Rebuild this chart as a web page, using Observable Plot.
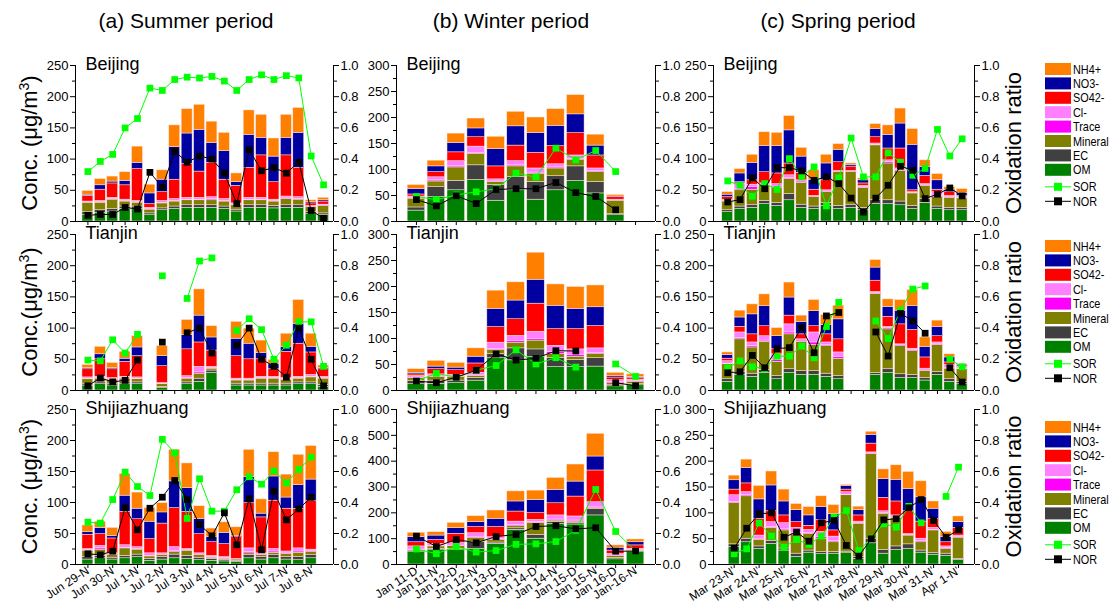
<!DOCTYPE html>
<html><head><meta charset="utf-8">
<script src="https://cdn.jsdelivr.net/npm/d3@7"></script>
<script src="https://cdn.jsdelivr.net/npm/@observablehq/plot@0.6"></script>
<style>
body{margin:0;background:#fff;}
#root{position:relative;width:1110px;height:603px;overflow:hidden;font-family:"Liberation Sans",Arial,sans-serif;background:#fff;}
#root svg{position:absolute;overflow:visible;}
</style></head><body><div id="root"></div>
<script>
// ---------- categories ----------
const components = ["OM","EC","Mineral","Trace","Cl-","SO42-","NO3-","NH4+"];
const compColors = ["#008000","#404040","#808000","#ff00ff","#ff80ff","#ff0000","#0000a0","#ff8000"];
const legendOrder = ["NH4+","NO3-","SO42-","Cl-","Trace","Mineral","EC","OM"];
const periodTitles = ["(a) Summer period","(b) Winter period","(c) Spring period"];
const cities = ["Beijing","Tianjin","Shijiazhuang"];
const summerLabels = ["Jun 29-N","Jun 30-N","Jul 1-N","Jul 2-N","Jul 3-N","Jul 4-N","Jul 5-N","Jul 6-N","Jul 7-N","Jul 8-N"];
const winterLabels = ["Jan 11-D","Jan 11-N","Jan 12-D","Jan 12-N","Jan 13-D","Jan 13-N","Jan 14-D","Jan 14-N","Jan 15-D","Jan 15-N","Jan 16-D","Jan-16-N"];
const springLabels = ["Mar 23-N'","Mar 24-N'","Mar 25-N'","Mar 26-N'","Mar 27-N'","Mar 28-N'","Mar 29-N'","Mar 30-N'","Mar 31-N'","Apr 1-N'"];
const ratioTicks = [0,0.2,0.4,0.6,0.8,1.0];
const ratioMinor = [0.1,0.3,0.5,0.7,0.9];

// ---------- data: each bar = [OM, EC, Mineral, Trace, Cl-, SO42-, NO3-, NH4+] (µg/m3) ----------
const summerBeijing = [[10,5,15,1,1,9,2,6],[14,4,12,1,2,18,7,10],[16,4,15,1,2,23,3,8],[20,4,8,1,2,23,7,14],[20,4,6,1,2,51,10,26],[10,3,6,1,2,6,17,14],[18,3,8,1,3,14,20,15],[20,4,8,1,3,31,52,35],[22,4,8,1,3,54,49,39],[22,4,8,1,3,42,67,40],[22,4,8,2,3,55,32,34],[20,4,8,1,3,31,46,29],[16,3,7,1,2,28,6,14],[22,4,8,1,3,48,53,39],[22,4,8,1,3,68,28,37],[21,4,7,1,2,28,41,29],[22,4,10,1,3,66,28,37],[22,4,9,1,3,47,56,40],[12,3,8,1,1,4,2,3],[10,3,12,1,1,5,2,4]];
const summerBeijingSOR = [0.32,0.385,0.43,0.60,0.66,0.855,0.84,0.91,0.925,0.92,0.93,0.90,0.84,0.91,0.94,0.91,0.935,0.92,0.42,0.235];
const summerBeijingNOR = [0.04,0.045,0.045,0.09,0.08,0.315,0.22,0.45,0.38,0.42,0.40,0.31,0.115,0.46,0.325,0.345,0.31,0.38,0.07,0.02];

const summerTianjin = [[8,3,7,1,2,13,2,5],[10,3,6,1,2,28,8,12],[8,3,6,1,2,14,2,8],[10,3,6,1,2,24,5,11],[10,3,5,1,2,34,14,18],null,[4,2,4,1,1,27,16,16],null,[10,3,6,1,3,43,23,24],[14,5,8,2,9,39,43,42],[28,4,3,1,2,26,21,18],null,[8,3,5,1,2,36,28,27],[8,3,5,1,2,31,25,24],[8,3,8,1,2,28,10,20],[8,3,8,1,2,12,8,7],[8,3,6,1,2,42,8,21],[10,3,6,1,2,53,32,38],[10,3,8,1,3,36,9,21],[6,3,10,1,2,12,2,4]];
const summerTianjinSOR = [0.195,0.19,0.325,0.24,0.36,null,0.735,null,0.59,0.83,0.85,null,0.385,0.46,0.39,0.20,0.29,0.44,0.44,0.155];
const summerTianjinNOR = [0.03,0.08,0.055,0.065,0.195,null,0.31,null,0.37,0.40,0.24,null,0.29,0.40,0.20,0.155,0.085,0.40,0.20,0.03];

const summerShijiazhuang = [[8,4,10,1,2,23,4,11],[10,4,10,2,4,19,10,10],[8,3,4,1,2,24,4,13],[10,4,12,1,4,54,26,35],[12,4,8,1,3,45,17,26],[6,3,4,1,4,23,28,22],[8,4,3,1,2,48,18,15],[10,6,4,2,6,63,43,51],[9,5,8,1,2,60,38,40],[7,4,4,1,2,31,24,21],[6,3,2,1,2,22,8,14],[5,2,2,1,2,21,18,17],[4,2,2,1,0,35,2,14],[10,5,3,2,6,73,42,44],[8,4,3,1,2,58,6,23],[10,5,4,2,4,78,39,39],[8,4,5,1,3,69,18,37],[7,5,7,2,5,64,38,49],[10,5,5,2,2,78,35,54],null];
const summerShijiazhuangSOR = [0.273,0.267,0.419,0.596,0.503,0.445,0.807,0.72,0.297,0.553,0.344,0.344,0.482,0.566,0.518,0.604,0.527,0.613,0.692,null];
const summerShijiazhuangNOR = [0.069,0.062,0.086,0.366,0.224,0.363,0.434,0.542,0.419,0.258,0.185,0.333,0.127,0.424,0.095,0.473,0.288,0.359,0.434,null];

const winterBeijing = [[21,6,17,1,3,4,10,8],[47,19,11,2,6,10,11,11],[60,18,26,2,10,17,18,18],[80,28,22,2,12,18,17,19],[40,30,6,1,4,25,33,24],[60,26,20,2,8,30,37,28],[42,34,16,2,8,30,38,30],[60,27,15,2,6,35,39,32],[78,28,13,1,7,43,36,37],[54,22,19,2,5,25,19,21],[12,2,26,1,1,5,1,3],null];
const winterBeijingSOR = [0.16,0.14,0.17,0.19,0.21,0.31,0.285,0.47,0.395,0.455,0.32,null];
const winterBeijingNOR = [0.14,0.10,0.165,0.115,0.205,0.21,0.21,0.25,0.185,0.16,0.075,null];

const winterTianjin = [[12,6,6,1,3,3,3,7],[13,6,7,1,4,10,5,11],[14,5,7,1,3,9,5,9],[19,5,4,1,5,18,13,16],[62,8,8,2,12,30,35,35],[58,23,11,3,10,32,36,35],[64,15,17,3,14,54,46,52],[45,18,7,4,12,32,45,41],[45,14,6,3,11,39,39,42],[46,16,8,2,9,43,36,42],[8,2,4,2,4,5,3,6],[10,3,4,1,3,3,2,5]];
const winterTianjinSOR = [0.06,0.11,0.085,0.13,0.16,0.26,0.17,0.21,0.15,null,0.17,0.09];
const winterTianjinNOR = [0.06,0.05,0.085,0.13,0.234,0.195,0.206,0.255,0.253,null,0.05,0.03];

const winterShijiazhuang = [[50,4,3,1,12,16,20,17],[55,6,9,2,8,15,17,13],[58,3,10,2,10,36,22,20],[60,27,15,3,16,24,19,23],[80,5,10,3,8,39,32,32],[134,6,8,4,14,39,39,39],[100,15,46,3,9,26,51,36],[158,6,6,4,16,47,52,46],[155,5,6,4,16,77,58,66],[190,25,3,3,20,123,54,88],[20,5,8,2,6,13,11,9],[50,2,2,2,5,13,12,11]];
const winterShijiazhuangSOR = [0.10,0.07,0.116,0.08,0.09,0.13,0.133,0.148,0.22,0.484,0.213,0.086];
const winterShijiazhuangNOR = [0.183,0.116,0.161,0.14,0.18,0.194,0.245,0.25,0.23,0.237,0.086,0.086];

const springBeijing = [[15,3,14,1,2,4,4,4],[20,4,26,2,9,2,14,7],[22,4,25,4,4,7,28,13],[28,5,25,1,2,18,42,22],[25,5,24,2,4,17,44,21],[34,10,24,2,4,19,53,23],[22,5,35,2,2,12,26,14],[20,4,15,1,1,10,16,15],[25,5,17,1,2,16,27,14],[20,5,54,1,1,14,20,9],[22,5,52,1,1,6,3,3],[18,4,32,1,2,4,5,3],[28,6,88,1,2,10,13,8],[28,6,59,2,3,19,22,15],[26,6,49,2,2,32,40,24],[20,5,20,1,1,3,73,25],[30,6,21,1,2,13,14,11],[20,4,15,2,6,4,15,10],[18,4,16,1,2,6,4,4],[18,4,15,1,2,1,5,6]];
const springBeijingSOR = [0.26,0.232,0.162,0.243,0.205,0.403,0.286,0.35,0.10,0.28,0.535,0.286,0.286,0.44,0.38,0.296,0.34,0.59,0.42,0.53];
const springBeijingNOR = [0.125,0.14,0.28,0.21,0.345,0.345,0.324,0.264,0.286,0.243,0.15,0.06,0.15,0.232,0.354,0.328,0.147,0.175,0.215,0.164];

const springTianjin = [[14,4,24,1,4,4,6,4],[25,5,52,2,9,9,15,11],[22,5,42,2,6,13,32,16],[28,5,45,2,7,16,32,19],[18,5,23,3,9,8,21,13],[28,6,56,3,13,14,29,24],[25,6,47,2,2,8,20,10],[25,6,42,4,16,10,24,18],[22,5,44,2,4,13,15,16],[18,5,28,3,7,21,32,22],null,null,[25,3,127,1,2,18,21,12],[28,6,64,2,2,16,16,12],[20,6,45,2,1,32,22,17],[20,5,38,2,2,30,38,26],[16,4,11,1,3,18,17,15],[25,5,43,1,3,10,15,10],[14,4,17,1,5,4,8,5],[10,4,20,1,2,1,2,2]];
const springTianjinSOR = [0.145,0.19,0.152,0.14,0.22,0.22,0.285,0.21,0.41,0.565,null,null,0.446,0.333,0.515,0.65,0.67,null,0.2,0.152];
const springTianjinNOR = [0.114,0.12,0.225,0.146,0.268,0.275,0.403,0.242,0.478,0.5,null,null,0.375,0.221,0.494,0.446,0.367,null,0.146,0.054];

const springShijiazhuang = [[34,5,80,2,13,11,18,9],[43,7,82,2,6,17,30,16],[30,5,13,2,6,32,38,26],[40,6,25,2,9,21,50,27],[27,4,35,2,12,15,27,23],[15,6,37,3,10,11,23,12],[23,4,32,2,6,8,20,16],[20,4,26,3,10,23,25,21],[21,3,19,2,9,12,32,17],[23,2,109,1,5,5,7,2],[11,4,64,1,3,12,10,7],[41,9,164,1,2,17,17,6],[21,7,70,2,3,26,36,19],[28,7,55,1,4,27,42,28],[30,9,17,1,2,44,43,33],[23,4,16,2,5,33,47,31],[19,3,44,1,4,17,20,14],[17,4,9,2,3,8,10,10],[9,2,41,1,3,15,11,11]];
const springShijiazhuangSOR = [0.069,0.101,0.267,0.183,0.112,0.161,0.129,0.183,0.305,0.348,0.09,0.17,0.262,0.241,0.375,0.269,null,0.439,0.628];
const springShijiazhuangNOR = [0.105,0.234,0.327,0.333,0.176,0.209,0.15,0.269,0.284,0.123,0.054,0.166,0.288,0.295,0.366,0.419,0.284,0.176,0.224];

// ---------- layout ----------
const colX = [[75,333],[396,655],[713,974]];
const rowY = [[65,221],[234,390],[409,564]];
const odd = [1,3,5,7,9,11,13,15,17,19];
const allIdx = n => d3.range(1, n + 1);

const panels = [
  {col:0,row:0,bars:summerBeijing,sor:summerBeijingSOR,nor:summerBeijingNOR,ymax:250,ystep:50,xdom:[0,20.8]},
  {col:0,row:1,bars:summerTianjin,sor:summerTianjinSOR,nor:summerTianjinNOR,ymax:250,ystep:50,xdom:[0,20.8]},
  {col:0,row:2,bars:summerShijiazhuang,sor:summerShijiazhuangSOR,nor:summerShijiazhuangNOR,ymax:250,ystep:50,xdom:[0,20.8],labels:summerLabels,labelAt:odd},
  {col:1,row:0,bars:winterBeijing,sor:winterBeijingSOR,nor:winterBeijingNOR,ymax:300,ystep:50,xdom:[0,13]},
  {col:1,row:1,bars:winterTianjin,sor:winterTianjinSOR,nor:winterTianjinNOR,ymax:300,ystep:50,xdom:[0,13]},
  {col:1,row:2,bars:winterShijiazhuang,sor:winterShijiazhuangSOR,nor:winterShijiazhuangNOR,ymax:600,ystep:100,xdom:[0,13],labels:winterLabels,labelAt:allIdx(12)},
  {col:2,row:0,bars:springBeijing,sor:springBeijingSOR,nor:springBeijingNOR,ymax:250,ystep:50,xdom:[-0.15,21]},
  {col:2,row:1,bars:springTianjin,sor:springTianjinSOR,nor:springTianjinNOR,ymax:250,ystep:50,xdom:[-0.15,21]},
  {col:2,row:2,bars:springShijiazhuang,sor:springShijiazhuangSOR,nor:springShijiazhuangNOR,ymax:300,ystep:50,xdom:[-0.66,20.28],labels:springLabels,labelAt:odd}
];

const root = document.getElementById("root");
const FONT = "'Liberation Sans', Arial, sans-serif";

function makePanel(p) {
  const [L, R] = colX[p.col], [T, B] = rowY[p.row];
  const mL = 48, mR = 42, mT = 12, mB = p.row === 2 ? 60 : 10;
  const width = R - L + mL + mR, height = B - T + mT + mB;
  const rows = [];
  p.bars.forEach((b, k) => {
    if (!b) return;
    b.forEach((v, j) => rows.push({i: k + 1, x1: k + 1 - 0.44, x2: k + 1 + 0.44, comp: components[j], v}));
  });
  const idx = allIdx(p.bars.length);
  const sorRows = p.sor.map((r, k) => ({i: k + 1, r}));
  const norRows = p.nor.map((r, k) => ({i: k + 1, r}));
  const yr = d => d.r == null ? NaN : d.r * p.ymax;
  const xAxis = p.row === 2
    ? Plot.axisX(p.labelAt, {anchor: "bottom", tickSize: 4, tickPadding: 1, tickRotate: -33, fontSize: 12,
        tickFormat: i => p.labels[p.labelAt.indexOf(i)], label: null})
    : Plot.axisX(idx, {anchor: "bottom", tickSize: 4, tickFormat: () => "", label: null});
  const svg = Plot.plot({
    width, height, marginLeft: mL, marginRight: mR, marginTop: mT, marginBottom: mB,
    style: {fontFamily: FONT, fontSize: "13px", color: "#000", background: "transparent", overflow: "visible"},
    x: {domain: p.xdom},
    y: {domain: [0, p.ymax]},
    color: {domain: components, range: compColors},
    marks: [
      Plot.rect(rows, Plot.stackY({x: "i", x1: "x1", x2: "x2", y: "v", fill: "comp", stroke: "#ffe4e4", strokeWidth: 0.5})),
      Plot.line(sorRows, {x: "i", y: yr, stroke: "#00ff00", strokeWidth: 1}),
      Plot.dot(sorRows.filter(d => d.r != null), {x: "i", y: yr, symbol: "square", r: 3.8, fill: "#00ff00"}),
      Plot.line(norRows, {x: "i", y: yr, stroke: "#000", strokeWidth: 1}),
      Plot.dot(norRows.filter(d => d.r != null), {x: "i", y: yr, symbol: "square", r: 3.8, fill: "#000"}),
      Plot.ruleX(p.xdom, {stroke: "#000", strokeWidth: 1}),
      Plot.ruleY([0], {stroke: "#000", strokeWidth: 1}),
      Plot.axisY(d3.range(0, p.ymax + 1e-9, p.ystep), {anchor: "left", tickSize: 5, tickPadding: 2, fontSize: 13, label: null}),
      Plot.axisY(d3.range(p.ystep / 2, p.ymax, p.ystep), {anchor: "left", tickSize: 3, tickFormat: () => "", label: null}),
      Plot.axisY(ratioTicks.map(t => t * p.ymax), {anchor: "right", tickSize: 5, tickPadding: 2, fontSize: 13,
        tickFormat: d => (d / p.ymax).toFixed(1), label: null}),
      Plot.axisY(ratioMinor.map(t => t * p.ymax), {anchor: "right", tickSize: 3, tickFormat: () => "", label: null}),
      xAxis,
      Plot.text([cities[p.row]], {frameAnchor: "top-left", dx: 10, dy: -8, fontSize: 18, lineAnchor: "top"})
    ]
  });
  svg.style.position = "absolute";
  svg.style.left = (L - mL) + "px";
  svg.style.top = (T - mT) + "px";
  root.appendChild(svg);
}
panels.forEach(makePanel);

// ---------- titles, axis titles, legends ----------
const ov = d3.select(root).append("svg").attr("width", 1110).attr("height", 603)
  .style("left", "0px").style("top", "0px").style("font-family", FONT);
const titleX = [186, 511, 838];
periodTitles.forEach((t, c) => ov.append("text").attr("x", titleX[c]).attr("y", 28)
  .attr("text-anchor", "middle").attr("font-size", 21).text(t));

const concLabels = ["Conc. (μg/m", "Conc.(μg/m", "Conc. (μg/m"];
rowY.forEach(([T, B], r) => {
  const cy = (T + B) / 2;
  const t = ov.append("text").attr("transform", `translate(37,${cy}) rotate(-90)`)
    .attr("text-anchor", "middle").attr("font-size", 22);
  t.append("tspan").text(concLabels[r]);
  t.append("tspan").attr("dy", -8).attr("font-size", 14).text("3");
  t.append("tspan").attr("dy", 8).text(")");
  ov.append("text").attr("transform", `translate(1021,${cy}) rotate(-90)`)
    .attr("text-anchor", "middle").attr("font-size", 22).text("Oxidation ratio");
});

const legendTop = [69, 246, 427];
legendTop.forEach(y0 => {
  legendOrder.forEach((c, k) => {
    const y = y0 + k * 14.4;
    ov.append("rect").attr("x", 1045).attr("y", y - 6).attr("width", 26).attr("height", 12)
      .attr("fill", compColors[components.indexOf(c)]);
    ov.append("text").attr("transform", `translate(1073,${y + 4.5}) scale(0.87,1)`).attr("font-size", 12.5).text(c);
  });
  [["SOR", "#00ff00"], ["NOR", "#000"]].forEach(([n, col], k) => {
    const y = y0 + 7 * 14.4 + 17 + k * 14.5;
    ov.append("line").attr("x1", 1045).attr("x2", 1071).attr("y1", y).attr("y2", y).attr("stroke", col);
    ov.append("rect").attr("x", 1054).attr("y", y - 4).attr("width", 8).attr("height", 8).attr("fill", col);
    ov.append("text").attr("transform", `translate(1073,${y + 4.5}) scale(0.87,1)`).attr("font-size", 12.5).text(n);
  });
});
</script>
</body></html>
